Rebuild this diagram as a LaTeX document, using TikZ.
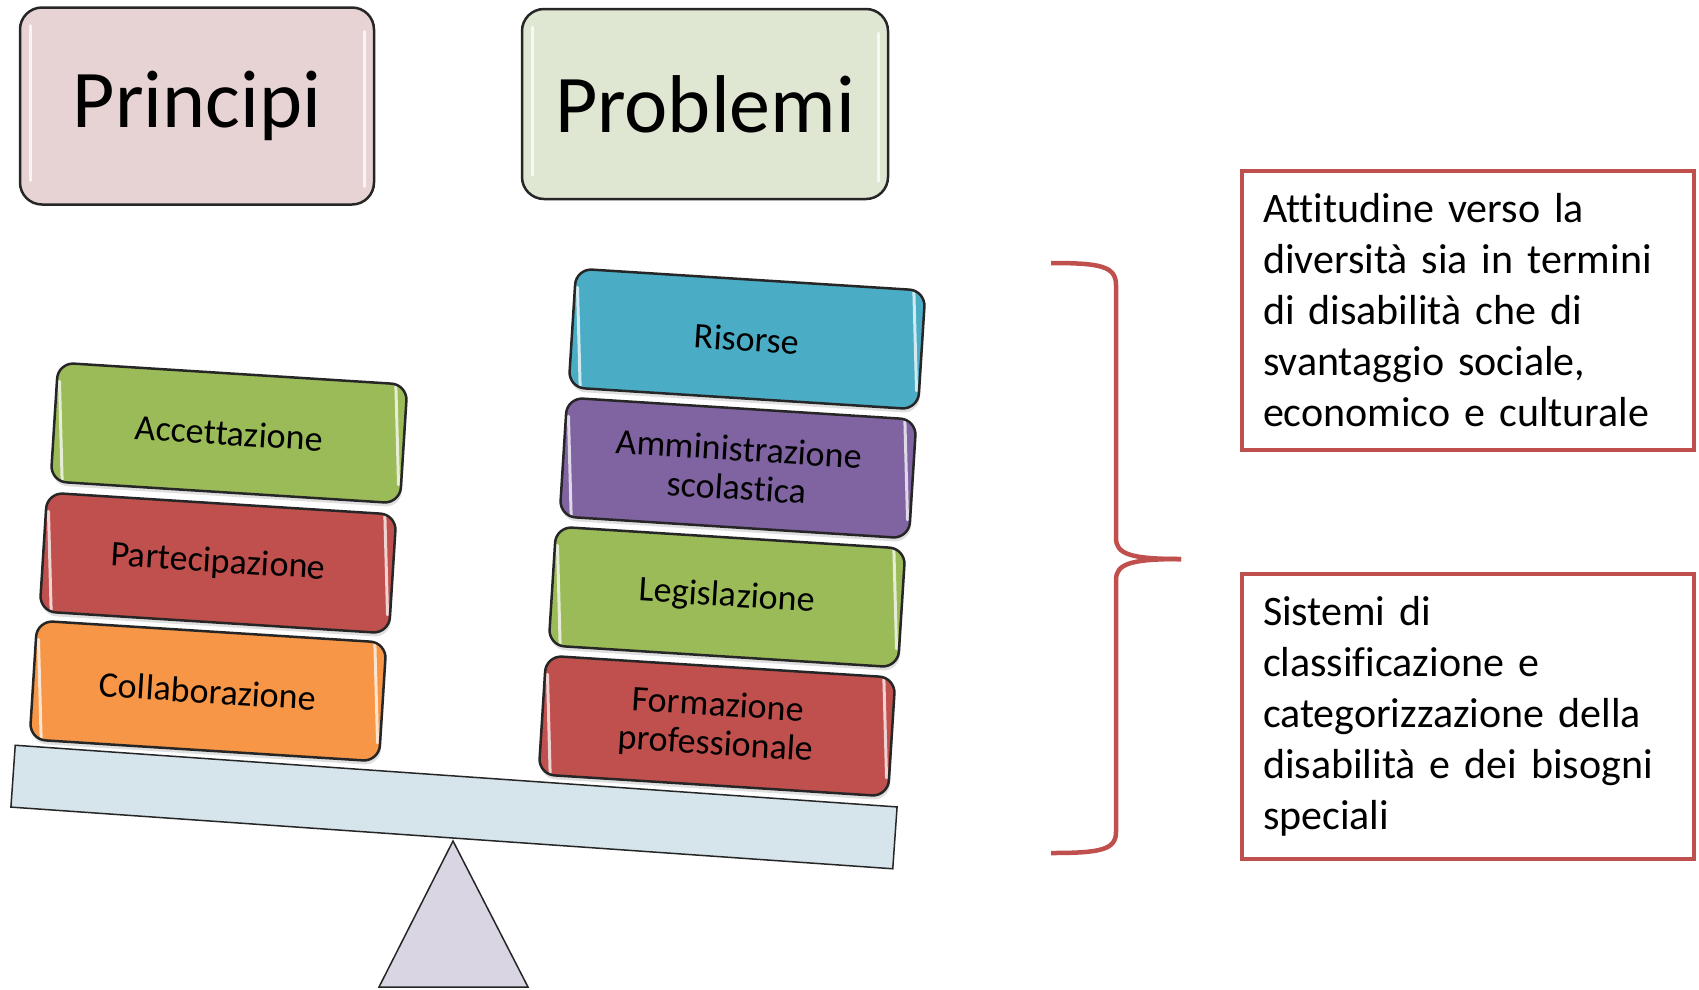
\documentclass[tikz,border=0pt]{standalone}
\usepackage{fontspec}
\setmainfont{Carlito}[Ligatures=NoCommon]
\usetikzlibrary{shapes.geometric, positioning, shadows}

\definecolor{pinkbox}{HTML}{E8D3D4}
\definecolor{sagebox}{HTML}{DFE6D2}
\definecolor{greenbox}{HTML}{9BBB59}
\definecolor{redbox}{HTML}{C0504D}
\definecolor{orangebox}{HTML}{F79646}
\definecolor{bluebox}{HTML}{4BACC6}
\definecolor{purplebox}{HTML}{8064A2}
\definecolor{beamcol}{HTML}{D6E4EB}
\definecolor{pivotcol}{HTML}{D9D5E2}

\tikzset{
  gloss/.style={path picture={
    \draw[white, opacity=0.75, line width=3pt, line cap=round]
      ([xshift=10pt, yshift=-18pt]path picture bounding box.north west) -- ([xshift=10pt, yshift=24pt]path picture bounding box.south west)
      ([xshift=-10pt, yshift=-24pt]path picture bounding box.north east) -- ([xshift=-10pt, yshift=18pt]path picture bounding box.south east);
  }},
  titlebox/.style={rectangle, rounded corners=22pt, draw=black!85, line width=2.5pt, font=\fontsize{82}{96}\selectfont, gloss},
  blockbox/.style={rectangle, rounded corners=16pt, draw=black!85, line width=2.5pt, minimum width=350pt, minimum height=119pt, rotate=-3.6, align=center, font=\fontsize{36}{39}\selectfont, gloss, drop shadow={shadow xshift=1pt, shadow yshift=-4pt, opacity=0.25}},
  notebox/.style={rectangle, draw=redbox, line width=4.5pt, fill=white, minimum width=452pt, text width=410pt, align=left, inner xsep=21pt, font=\fontsize{42}{51}\selectfont},
}

\begin{document}
\begin{tikzpicture}[x=1pt, y=-1pt]
\useasboundingbox (0,0) rectangle (1699,989);

% Titles
\node[titlebox, fill=pinkbox, minimum width=354pt, minimum height=197pt] (principi) at (197,106) {Principi};
\node[titlebox, fill=sagebox, minimum width=366pt, minimum height=190pt] (problemi) at (705,104) {Problemi};

% Scale
\draw[fill=pivotcol, draw=black!85, line width=1.5pt] (453,841) -- (528,987) -- (379,987) -- cycle;
\node[rectangle, draw=black!85, line width=1.5pt, fill=beamcol, minimum width=884pt, minimum height=62pt, rotate=-4] (beam) at (454,807) {};

% Left side
\node[blockbox, fill=greenbox] (acc) at (229,433) {Accettazione};
\node[blockbox, fill=redbox] (part) at (218,563) {Partecipazione};
\node[blockbox, fill=orangebox] (coll) at (208,691) {Collaborazione};

% Right side
\node[blockbox, fill=bluebox] (ris) at (747,339) {Risorse};
\node[blockbox, fill=purplebox] (amm) at (738,468) {Amministrazione\\scolastica};
\node[blockbox, fill=greenbox] (leg) at (727,597) {Legislazione};
\node[blockbox, fill=redbox] (form) at (717,726) {Formazione\\professionale};

% Brace
\draw[redbox, line width=4.5pt] (1051,263) .. controls (1100,263) and (1116,266) .. (1116,285) -- (1116,538)
  .. controls (1116,554) and (1130,559) .. (1181,559);
\draw[redbox, line width=4.5pt] (1181,559) .. controls (1130,559) and (1116,564) .. (1116,580) -- (1116,832)
  .. controls (1116,850) and (1100,853) .. (1051,853);

% Notes
\node[notebox, minimum height=279pt] (att) at (1468,310.5) {Attitudine verso la\\diversità sia in termini\\di disabilità che di\\svantaggio sociale,\\economico e culturale};
\node[notebox, minimum height=285pt] (sis) at (1468,716.5) {Sistemi di\\classificazione e\\categorizzazione della\\disabilità e dei bisogni\\speciali};
\end{tikzpicture}
\end{document}
